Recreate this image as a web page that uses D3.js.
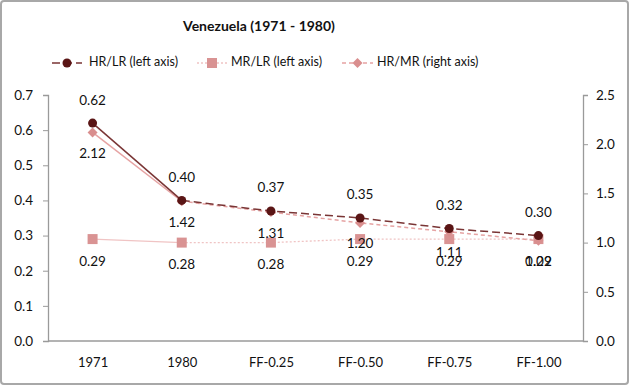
<!DOCTYPE html>
<html><head><meta charset="utf-8">
<script src="https://cdn.jsdelivr.net/npm/d3@7"></script>
<style>
html,body{margin:0;padding:0;background:#fff;}
svg text{font-family:"Lato","Open Sans",sans-serif;}
</style></head>
<body><svg id="c" width="630" height="386"></svg>
<script>
const categories = ["1971","1980","FF-0.25","FF-0.50","FF-0.75","FF-1.00"];
const hrLr = [0.62,0.40,0.37,0.35,0.32,0.30];
const mrLr = [0.29,0.28,0.28,0.29,0.29,0.29];
const hrMr = [2.12,1.42,1.31,1.20,1.11,1.02];
const leftTicks = [0,0.1,0.2,0.3,0.4,0.5,0.6,0.7];
const rightTicks = [0,0.5,1.0,1.5,2.0,2.5];
const seriesNames = ["HR/LR (left axis)","MR/LR (left axis)","HR/MR (right axis)"];

const svg = d3.select("#c");
svg.append("rect").attr("x",1).attr("y",1).attr("width",627).attr("height",383)
  .attr("rx",3).attr("fill","#fff").attr("stroke","#a8a8a8").attr("stroke-width",2);

const L=48,R=583,T=95,B=341;
const x = d3.scalePoint().domain(categories).range([L,R]).padding(0.5);
const yL = d3.scaleLinear().domain([0,0.7]).range([B,T]);
const yR = d3.scaleLinear().domain([0,2.5]).range([B,T]);

const axisCol="#9a9a9a", textCol="#111";
const gl = svg.append("g").attr("transform",`translate(${L},0)`)
  .call(d3.axisLeft(yL).tickValues(leftTicks).tickFormat(d3.format(".1f")).tickSize(5).tickPadding(10));
const gr = svg.append("g").attr("transform",`translate(${R},0)`)
  .call(d3.axisRight(yR).tickValues(rightTicks).tickFormat(d3.format(".1f")).tickSize(5).tickPadding(8));
const gb = svg.append("g").attr("transform",`translate(0,${B})`)
  .call(d3.axisBottom(x).tickSize(0).tickPadding(17));
[gl,gr,gb].forEach(g=>{
  g.select(".domain").attr("stroke",axisCol).attr("stroke-width",1.3);
  g.selectAll(".tick line").attr("stroke",axisCol);
  g.selectAll("text").attr("fill",textCol).attr("font-size",13.5);
});
gb.selectAll("text").attr("font-size",13);
gb.select(".domain").attr("d",`M${L},0H${R}`);

svg.append("text").attr("x",259).attr("y",31).attr("text-anchor","middle")
  .attr("font-size",14).attr("font-weight","bold").attr("fill","#111").text("Venezuela (1971 - 1980)");

const cHR="#7a3535", cHRm="#5a1515", cMR="#f0c4c4", cMRm="#d99393", cHM="#e6a3a3", cHMm="#d98e8e";

function drawSeries(vals, ys, lineCol, lw, dash, markerFn, mCol){
  const pts = vals.map((v,i)=>[x(categories[i]), ys(v)]);
  const line = d3.line();
  svg.append("path").attr("d",line(pts.slice(0,2))).attr("fill","none").attr("stroke",lineCol).attr("stroke-width",lw);
  svg.append("path").attr("d",line(pts.slice(1))).attr("fill","none").attr("stroke",lineCol).attr("stroke-width",lw).attr("stroke-dasharray",dash);
  pts.forEach(p=>markerFn(svg,p[0],p[1],mCol));
  return pts;
}
const circle=(g,cx,cy,c)=>g.append("circle").attr("cx",cx).attr("cy",cy).attr("r",4.5).attr("fill",c);
const square=(g,cx,cy,c)=>g.append("rect").attr("x",cx-5).attr("y",cy-5).attr("width",10).attr("height",10).attr("fill",c);
const diamond=(g,cx,cy,c)=>g.append("path").attr("d",`M${cx},${cy-5}L${cx+5},${cy}L${cx},${cy+5}L${cx-5},${cy}Z`).attr("fill",c);

const pMR = drawSeries(mrLr,yL,cMR,1.3,"2,2",square,cMRm);
const pHM = drawSeries(hrMr,yR,cHM,1.5,"4,3",diamond,cHMm);
const pHR = drawSeries(hrLr,yL,cHR,1.5,"8,4",circle,cHRm);

const fmt=d3.format(".2f");
function labels(vals,pts,dy){
  vals.forEach((v,i)=>svg.append("text").attr("x",pts[i][0]).attr("y",pts[i][1]+dy)
    .attr("text-anchor","middle").attr("dominant-baseline","middle").attr("font-size",13.5).attr("fill",textCol).text(fmt(v)));
}
labels(hrLr,pHR,-22);
labels(mrLr,pMR,23);
labels(hrMr,pHM,22);

// legend
const ly=63;
const leg=[
  {x1:52,x2:82,name:seriesNames[0],col:cHR,dash:"8,4",m:circle,mc:cHRm,tx:89},
  {x1:197,x2:227,name:seriesNames[1],col:cMR,dash:"2,2",m:square,mc:cMRm,tx:231},
  {x1:342,x2:373,name:seriesNames[2],col:cHM,dash:"4,3",m:diamond,mc:cHMm,tx:377}
];
leg.forEach(d=>{
  svg.append("line").attr("x1",d.x1).attr("x2",d.x2).attr("y1",ly).attr("y2",ly).attr("stroke",d.col).attr("stroke-width",1.5).attr("stroke-dasharray",d.dash);
  d.m(svg,(d.x1+d.x2)/2,ly,d.mc);
  svg.append("text").attr("x",d.tx).attr("y",ly).attr("dominant-baseline","middle").attr("font-size",12.5).attr("fill",textCol).text(d.name);
});
</script></body></html>
